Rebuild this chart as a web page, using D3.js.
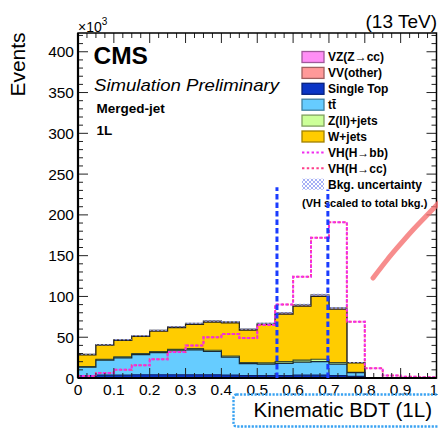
<!DOCTYPE html>
<html><head><meta charset="utf-8">
<script src="https://cdn.jsdelivr.net/npm/d3@7"></script>
<style>
html,body{margin:0;padding:0;background:#fff;}
svg{display:block;font-family:"Liberation Sans",Arial,Helvetica,sans-serif;}
</style></head><body>
<svg id="chart" width="438" height="430"></svg>
<script>
// Kinematic BDT (1L) distribution, events in units of 10^3, 20 bins of width 0.05
const binEdges = [0,0.05,0.1,0.15,0.2,0.25,0.3,0.35,0.4,0.45,0.5,0.55,0.6,0.65,0.7,0.75,0.8,0.85,0.9,0.95,1];

const singleTop = [3,3.5,3.5,4,4,4,4,4,3.5,3,3,3,3.5,3.5,3,2,0,0,0,0];
const ttbar     = [10.2,18.3,21.2,24.6,27,29.4,30.4,28.5,22.1,14.7,13.9,15,15.9,16.7,14,4.6,0,0,0,0];
const zjets     = [0.8,1.2,1.3,1.4,1.5,1.6,1.6,1.5,1.4,1.3,1.6,2.0,2.6,2.8,2.0,0.4,0,0,0,0];
const wjets     = [14.4,17.2,20.1,20.9,24.8,26.7,29.6,34.6,40.6,39.7,47.1,58.3,66.1,76.9,65.3,11.6,0,0,0,0];
const vvOther   = [0.5,0.7,0.8,0.9,1.0,1.1,1.2,1.2,1.2,1.1,1.2,1.4,1.5,1.7,1.4,0.3,0,0,0,0];
const vzcc      = [0.1,0.1,0.1,0.2,0.2,0.2,0.2,0.2,0.2,0.2,0.2,0.3,0.4,0.4,0.3,0.1,0,0,0,0];
const bkgUnc    = [0.6,0.7,0.7,0.8,0.8,0.8,0.9,0.9,0.9,0.8,0.9,1.0,1.1,1.2,1.1,0.5,0,0,0,0];

// signal templates, normalised to the total background
const vhbb = [2.5,6,10,15.5,23,32,40,50,54,49,65,90,124,172,191,69,12,3,1.5,1];
const vhcc = [2.5,6,10,15.5,23,32,40,50,54,49,65,90,124,172,191,69,12,3,1.5,1];

// selection boundaries shown as dashed lines: [BDT value, line top]
const cutLines = [[0.555,234],[0.697,231]];

// hand-drawn pointer stroke, in axis units
const pointerX = [0.823,0.862,0.89,0.934,0.982,1.006];
const pointerY = [122.6,144.7,159.4,181.5,203.5,214.6];

const yTickLabels = [0,50,100,150,200,250,300,350,400];
const xTickLabels = ["0","0.1","0.2","0.3","0.4","0.5","0.6","0.7","0.8","0.9","1"];

const stackLayers = [
  {key:"st", name:"Single Top", values:singleTop, fill:"#0b35c6", stroke:"#0a1f70"},
  {key:"tt", name:"tt\u0304",   values:ttbar,     fill:"#66ccff", stroke:"#1a2a33"},
  {key:"zj", name:"Z(ll)+jets", values:zjets,     fill:"#ccff99", stroke:"#394a2a"},
  {key:"wj", name:"W+jets",     values:wjets,     fill:"#ffcc00", stroke:"#222"},
  {key:"vv", name:"VV(other)",  values:vvOther,   fill:"#ff9999", stroke:"#777"},
  {key:"vz", name:"VZ(Z\u2192cc)", values:vzcc,   fill:"#ff8ef5", stroke:"#777"}
];
const legendOrder = ["vz","vv","st","tt","zj","wj"];

const svg = d3.select("#chart");
const L = 78, R = 436.5, T = 33, B = 378;
const x = d3.scaleLinear().domain([0,1]).range([L,R]);
const y = d3.scaleLinear().domain([0,423]).range([B,T]);

const defs = svg.append("defs");
const hatch = defs.append("pattern").attr("id","hatch").attr("patternUnits","userSpaceOnUse")
  .attr("width",4).attr("height",4);
hatch.append("path").attr("d","M0,4L4,0M-1,1L1,-1M3,5L5,3").attr("stroke","#8f9cf2").attr("stroke-width",0.8);
hatch.append("path").attr("d","M0,0L4,4M-1,3L1,5M3,-1L5,1").attr("stroke","#8f9cf2").attr("stroke-width",0.8);
defs.append("clipPath").attr("id","plotclip").append("rect")
  .attr("x",L).attr("y",T).attr("width",R-L).attr("height",B-T);

// cumulative stack
let cum = binEdges.slice(1).map(()=>0);
stackLayers.forEach(l => { cum = cum.map((c,i)=>c+l.values[i]); l.cum = cum.slice(); });

function stepPoints(vals){
  const pts = [[binEdges[0],0]];
  vals.forEach((v,i)=>{ pts.push([binEdges[i],v]); pts.push([binEdges[i+1],v]); });
  pts.push([binEdges[binEdges.length-1],0]);
  return pts;
}
const line = d3.line().x(d=>x(d[0])).y(d=>y(d[1]));

const plot = svg.append("g").attr("clip-path","url(#plotclip)");

// ROOT-style stack: draw cumulative sums from the largest down
stackLayers.slice().reverse().forEach(l=>{
  const pts = stepPoints(l.cum);
  plot.append("path").attr("d",line(pts)+"Z").attr("fill",l.fill).attr("stroke","none");
  plot.append("path").attr("d",line(pts)).attr("fill","none")
    .attr("stroke",l.stroke).attr("stroke-width",1.2);
});

// background uncertainty band
const total = stackLayers[stackLayers.length-1].cum;
const bandPts = [];
total.forEach((v,i)=>{ bandPts.push([binEdges[i],v+bkgUnc[i],v-bkgUnc[i]]); bandPts.push([binEdges[i+1],v+bkgUnc[i],v-bkgUnc[i]]); });
plot.append("path")
  .attr("d",d3.area().x(d=>x(d[0])).y0(d=>y(d[2])).y1(d=>y(d[1]))(bandPts))
  .attr("fill","url(#hatch)");

// signal templates
function sigPath(vals){
  const pts = [];
  vals.forEach((v,i)=>{ pts.push([binEdges[i],v]); pts.push([binEdges[i+1],v]); });
  return line(pts);
}
plot.append("path").attr("d",sigPath(vhcc)).attr("fill","none").attr("stroke","#ff3f8a")
  .attr("stroke-width",2).attr("stroke-dasharray","2.4,2.4");
plot.append("path").attr("d",sigPath(vhbb)).attr("fill","none").attr("stroke","#f02cf0")
  .attr("stroke-width",2).attr("stroke-dasharray","2.4,2.4").attr("stroke-dashoffset",1.2);

// axes frame and ticks
const ax = svg.append("g").attr("stroke","#222").attr("stroke-width",1);
const yMinor = d3.range(0,421,10), yMajor = yTickLabels;
yMinor.forEach(v=>{
  const len = yMajor.includes(v)?10:5;
  ax.append("line").attr("x1",L).attr("x2",L+len).attr("y1",y(v)).attr("y2",y(v));
  ax.append("line").attr("x1",R).attr("x2",R-len).attr("y1",y(v)).attr("y2",y(v));
});
const xMinor = d3.range(0,41).map(i=>i*0.025);
xMinor.forEach((v,i)=>{
  const len = (i%4===0)?10:5;
  ax.append("line").attr("x1",x(v)).attr("x2",x(v)).attr("y1",B).attr("y2",B-len);
  ax.append("line").attr("x1",x(v)).attr("x2",x(v)).attr("y1",T).attr("y2",T+len);
});
svg.append("rect").attr("x",L).attr("y",T).attr("width",R-L).attr("height",B-T)
  .attr("fill","none").attr("stroke","#000").attr("stroke-width",1.5);
svg.append("line").attr("x1",L).attr("x2",L).attr("y1",T).attr("y2",B).attr("stroke","#000").attr("stroke-width",2.2);
svg.append("line").attr("x1",L).attr("x2",R).attr("y1",B).attr("y2",B).attr("stroke","#000").attr("stroke-width",2.2);

// tick labels
svg.append("g").selectAll("text").data(yTickLabels).join("text")
  .attr("x",74).attr("y",d=>y(d)).attr("dy","0.36em").attr("text-anchor","end")
  .attr("font-size",15.5).text(d=>d);
const lastX = xTickLabels.length-1;
svg.append("g").selectAll("text").data(xTickLabels).join("text")
  .attr("x",(d,i)=> i===lastX ? 438 : x(i/10)).attr("y",395)
  .attr("text-anchor",(d,i)=> i===lastX ? "end" : "middle")
  .attr("font-size",15.5).text(d=>d);

// axis titles
svg.append("text").attr("transform","translate(25,64.5) rotate(-90)").attr("text-anchor","middle")
  .attr("font-size",21).text("Events");
const xt = svg.append("text").attr("x",432).attr("y",417).attr("text-anchor","end")
  .attr("font-size",20.5).text("Kinematic BDT (1L)");
const xb = xt.node().getBBox();
svg.append("rect").attr("x",xb.x-20).attr("y",xb.y-3.5).attr("width",xb.width+40).attr("height",xb.height+9)
  .attr("rx",3).attr("fill","none").attr("stroke","#39a2f2").attr("stroke-width",2.4)
  .attr("stroke-dasharray","2.2,1.4");

const mult = svg.append("text").attr("x",78).attr("y",31.5).attr("font-size",14);
mult.append("tspan").text("\u00d710");
mult.append("tspan").attr("dy",-7).attr("font-size",10).text("3");

svg.append("text").attr("x",437).attr("y",27.5).attr("text-anchor","end").attr("font-size",19).text("(13 TeV)");

// labels inside the frame
svg.append("text").attr("x",93.5).attr("y",63.5).attr("font-size",24.5).attr("font-weight","bold").text("CMS");
svg.append("text").attr("x",94).attr("y",90.5).attr("font-size",16.5).attr("font-style","italic")
  .attr("textLength",185).attr("lengthAdjust","spacingAndGlyphs").text("Simulation Preliminary");
svg.append("text").attr("x",96.5).attr("y",112.5).attr("font-size",13.5).attr("font-weight","bold").text("Merged-jet");
svg.append("text").attr("x",96.5).attr("y",135).attr("font-size",13.5).attr("font-weight","bold").text("1L");

// legend
const leg = svg.append("g");
const rowY = i => 57 + 15.9*i;
legendOrder.forEach((k,i)=>{
  const l = stackLayers.find(s=>s.key===k);
  leg.append("rect").attr("x",302).attr("y",rowY(i)-5.5).attr("width",22).attr("height",11)
    .attr("fill",l.fill).attr("stroke",d3.color(l.fill).darker(1.3)).attr("stroke-width",1.3);
  leg.append("text").attr("x",328).attr("y",rowY(i)).attr("dy","0.36em").attr("font-size",12)
    .attr("font-weight","bold").text(l.name);
});
[["VH(H\u2192bb)","#f02cf0"],["VH(H\u2192cc)","#ff3f8a"]].forEach((e,k)=>{
  const i = 6+k;
  leg.append("line").attr("x1",302).attr("x2",324).attr("y1",rowY(i)).attr("y2",rowY(i))
    .attr("stroke",e[1]).attr("stroke-width",2).attr("stroke-dasharray","2.4,2.4");
  leg.append("text").attr("x",328).attr("y",rowY(i)).attr("dy","0.36em").attr("font-size",12)
    .attr("font-weight","bold").text(e[0]);
});
leg.append("rect").attr("x",302).attr("y",rowY(8)-5.5).attr("width",22).attr("height",11).attr("fill","url(#hatch)");
leg.append("text").attr("x",328).attr("y",rowY(8)).attr("dy","0.36em").attr("font-size",12)
  .attr("font-weight","bold").text("Bkg. uncertainty");
leg.append("text").attr("x",302).attr("y",203.5).attr("dy","0.36em").attr("font-size",11)
  .attr("font-weight","bold").text("(VH scaled to total bkg.)");

// selection boundaries
svg.append("g").selectAll("line").data(cutLines).join("line")
  .attr("x1",d=>x(d[0])).attr("x2",d=>x(d[0])).attr("y1",B).attr("y2",d=>y(d[1]))
  .attr("stroke","#1a3cff").attr("stroke-width",3).attr("stroke-dasharray","5.5,3");

// pointer stroke
const ptr = pointerX.map((v,i)=>[v,pointerY[i]]);
svg.append("path").attr("d",d3.line().x(d=>x(d[0])).y(d=>y(d[1])).curve(d3.curveCatmullRom)(ptr))
  .attr("fill","none").attr("stroke","#f57070").attr("stroke-opacity",0.8)
  .attr("stroke-width",5).attr("stroke-linecap","round");
</script>
</body></html>
